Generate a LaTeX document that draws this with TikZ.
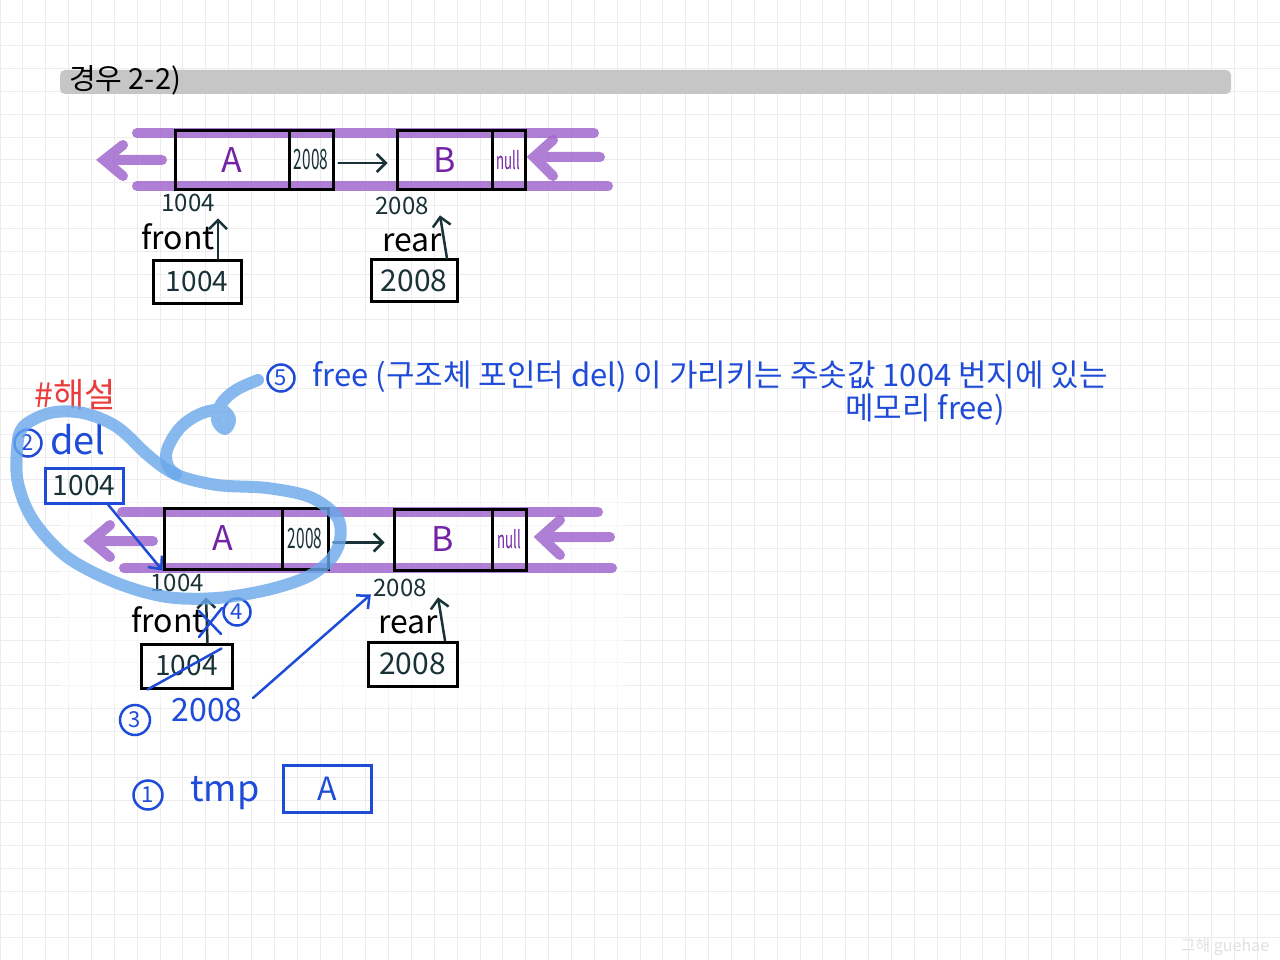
\documentclass[tikz,border=0pt]{standalone}
\usepackage{fontspec}
\setmainfont{Noto Sans CJK KR}
\usetikzlibrary{arrows.meta,calc}

\definecolor{inkteal}{RGB}{25,50,55}
\definecolor{penblue}{RGB}{30,75,215}
\definecolor{penred}{RGB}{235,60,60}
\definecolor{markpurple}{RGB}{160,105,205}
\definecolor{hiblue}{RGB}{105,168,235}
\definecolor{txtpurple}{RGB}{115,35,165}
\definecolor{gridgray}{RGB}{236,236,236}
\definecolor{bargray}{RGB}{198,198,198}

\newcommand\fs[1]{\fontsize{#1}{#1}\selectfont}

\tikzset{every picture/.style={line width=1pt}}
\tikzset{
  cell/.style={draw=black, line width=3pt, inner sep=0pt, text=txtpurple, font=\fs{34}},
  addr/.style={text=inkteal, inner sep=0pt, font=\fs{24}},
  varname/.style={text=black, inner sep=0pt, font=\fs{32}},
  varbox/.style={draw=black, line width=3pt, inner sep=0pt, text=inkteal, font=\fs{28}},
  penbox/.style={varbox, draw=penblue},
  pen/.style={text=penblue, inner sep=0pt},
  num/.style={circle, draw=penblue, line width=2.5pt, text=penblue, inner sep=0pt, minimum size=27pt, font=\fs{22}},
  marker/.style={markpurple, line width=10pt, line cap=round, opacity=0.85},
  hilite/.style={hiblue, line width=12pt, line cap=round, line join=round, opacity=0.8},
  inkarrow/.style={inkteal, line width=2.5pt, line cap=round, -{Straight Barb[length=9pt,width=18pt]}},
  penarrow/.style={penblue, line width=2.5pt, line cap=round, -{Straight Barb[length=10pt,width=18pt]}},
  penline/.style={penblue, line width=2.5pt, line cap=round}
}

\begin{document}
\begin{tikzpicture}[x=1pt,y=1pt,yscale=-1,xscale=1]
\useasboundingbox (0,0) rectangle (1280,960);
%Background grid
\fill[white] (0,0) rectangle (1280,960);
\draw[gridgray] (0,0) grid[step=22.857] (1280,960);
\fill[white, opacity=0.55] (60,497) rectangle (625,705);

%Shape: title bar
\fill[bargray, rounded corners=5pt] (60,70) rectangle (1231,94);
% Text Node
\node[font=\fs{29}] (title) at (125,80) {경우 2-2)};

%Straight Lines: queue marks (top)
\draw[marker] (137,133) -- (594,133);
\draw[marker] (137,186) -- (608,186);
\draw[marker] (162,160) -- (104,160) (123,145) -- (104,160) -- (123,176);
\draw[marker] (600,157) -- (534,157) (553,140) -- (534,157) -- (553,176);

%Shape: list nodes (top)
\node[cell, minimum width=114, minimum height=59] (Adat1) at (232,160) {A};
\node[cell, minimum width=44, minimum height=59, text=inkteal] (Aptr1) at (311,160) {\scalebox{0.55}[1]{\fs{28}2008}};
\node[cell, minimum width=95, minimum height=59] (Bdat1) at (444.5,160.5) {B};
\node[cell, minimum width=33, minimum height=59] (Bptr1) at (508.5,160.5) {\scalebox{0.55}[1]{\fs{24}null}};
\draw[inkarrow] ($(Aptr1.east)+(4,3)$) -- ($(Bdat1.west)+(-8,2.5)$);

% Text Node
\node[addr] (adA1) at (188,203) {1004};
\node[addr] (adB1) at (402,206) {2008};
\node[varname] (front1) at (178,237) {front};
\node[varname] (rear1) at (412,243) {rear};
%Shape: Rectangle
\node[varbox, minimum width=88, minimum height=42] (fbox1) at (197,282) {1004};
\node[varbox, minimum width=86, minimum height=41, font=\fs{30}] (rbox1) at (414,280.5) {2008};
\draw[inkarrow] ($(fbox1.north)+(21,0)$) -- ($(adA1.south)+(30,6)$);
\draw[inkarrow] ($(rbox1.north)+(33,0)$) -- ($(adB1.south)+(38,0)$);

%Straight Lines: queue marks (bottom)
\draw[marker] (122,512) -- (598,512);
\draw[marker] (124,568) -- (612,568);
\draw[marker] (153,541) -- (91,541) (110,525) -- (91,541) -- (110,557);
\draw[marker] (610,537) -- (541,537) (560,520) -- (541,537) -- (560,555);

%Shape: list nodes (bottom)
\node[cell, minimum width=118, minimum height=61] (Adat2) at (223,538.5) {A};
\node[cell, minimum width=46, minimum height=61, text=inkteal] (Aptr2) at (305,538.5) {\scalebox{0.55}[1]{\fs{28}2008}};
\node[cell, minimum width=98, minimum height=61] (Bdat2) at (443,539.5) {B};
\node[cell, minimum width=34, minimum height=61] (Bptr2) at (509,539.5) {\scalebox{0.55}[1]{\fs{24}null}};
\draw[inkarrow] ($(Aptr2.east)+(4,4)$) -- ($(Bdat2.west)+(-8,3)$);

% Text Node
\node[addr] (adA2) at (177,583) {1004};
\node[addr] (adB2) at (400,588) {2008};
\node[varname] (front2) at (168,620) {front};
\node[varname] (rear2) at (408,625) {rear};
%Shape: Rectangle
\node[varbox, minimum width=91, minimum height=44] (fbox2) at (186.5,666) {1004};
\node[varbox, minimum width=89, minimum height=44, font=\fs{30}] (rbox2) at (412.5,664) {2008};
\draw[inkarrow] ($(fbox2.north)+(21,0)$) -- ($(adA2.south)+(29,5)$);
\draw[inkarrow] ($(rbox2.north)+(32.5,0)$) -- ($(adB2.south)+(38,0)$);

% Text Node: explanation
\node[text=penred, inner sep=0pt, font=\fs{34}] (expl) at (75,395) {\#해설};
\node[num] (n5) at (281,378) {5};
\node[pen, anchor=west, font=\fs{31}] (note1) at (312,377) {free (구조체 포인터 del) 이 가리키는 주솟값 1004 번지에 있는};
\node[pen, font=\fs{31}] (note2) at (925,410) {메모리 free)};

\node[num] (n2) at (28,443) {2};
\node[pen, font=\fs{38}] (delname) at (78,440) {del};
\node[penbox, minimum width=78, minimum height=35] (delbox) at (84,485.5) {1004};
\draw[penarrow] ($(delbox.south)+(24,0)$) -- (Adat2.south west);

%Straight Lines: step 4
\node[num] (n4) at (237,612) {4};
\draw[penline] (199,611) -- (221,634) (222,608) -- (199,637);
\draw[penline] ($(fbox2.south west)+(8,0)$) -- ($(fbox2.north east)+(-12,6)$);

%step 3
\node[num, minimum size=30] (n3) at (135,720) {3};
\node[pen, font=\fs{32}] (val3) at (207,710) {2008};
\draw[penarrow] ($(val3.east)+(10,-12)$) -- ($(adB2.south west)+(-2,-3)$);

%step 1
\node[num, minimum size=29] (n1) at (148,795) {1};
\node[pen, font=\fs{36}] (tmpname) at (225,793) {tmp};
\node[penbox, text=penblue, minimum width=88, minimum height=47, font=\fs{32}] (tmpbox) at (327,788.5) {A};

%Highlighter loop
\draw[hilite] plot[smooth, tension=0.6] coordinates {(258,380) (236,390) (221,404) (217,420) (225,429) (230,419) (221,410) (200,414) (180,428) (167,450) (168,466) (176,474)};
\draw[hilite] plot[smooth cycle, tension=0.55] coordinates {(23,427) (50,413) (83,413) (117,427) (150,457) (177,475) (217,485) (267,488) (310,497) (337,517) (340,540) (330,560) (307,577) (267,590) (217,598) (167,597) (117,583) (67,557) (33,520) (18,483) (17,450)};

% watermark
\node[text=black!12, font=\fs{16}] (mark) at (1225,947) {그해 guehae};

\end{tikzpicture}
\end{document}
